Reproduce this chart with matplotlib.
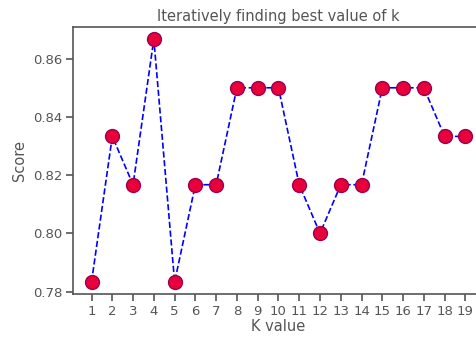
import matplotlib
matplotlib.use("Agg")
import matplotlib.pyplot as plt

k_values = list(range(1, 20))
scores = [0.7833, 0.8333, 0.8167, 0.8667, 0.7833, 0.8167, 0.8167, 0.85, 0.85, 0.85,
          0.8167, 0.80, 0.8167, 0.8167, 0.85, 0.85, 0.85, 0.8333, 0.8333]
y_ticks = [0.78, 0.80, 0.82, 0.84, 0.86]

fig = plt.figure(figsize=(4.76, 3.42), dpi=100)
ax = fig.add_axes([0.153, 0.140, 0.864, 0.781])
ax.plot(k_values, scores, color='blue', linestyle='dashed', linewidth=1.2,
        marker='o', markerfacecolor='#e8003a', markeredgecolor='#9a0050',
        markeredgewidth=1.0, markersize=10)
ax.set_xticks(k_values)
ax.set_yticks(y_ticks)
ax.set_yticklabels([f"{v:.2f}" for v in y_ticks])
txt = '#555555'
ax.tick_params(labelsize=9.5, colors=txt, length=5, width=1.2, pad=2.5)
ax.tick_params(axis='both', color='#555555')
for s in ax.spines.values():
    s.set_color('#555555')
    s.set_linewidth(1.2)
ax.set_title('Iteratively finding best value of k', fontsize=10.5, color=txt, pad=4)
ax.set_xlabel('K value', fontsize=10.5, color=txt, labelpad=1)
ax.set_ylabel('Score', fontsize=10.5, color=txt, labelpad=4)
fig.savefig('out.png', dpi=100)
